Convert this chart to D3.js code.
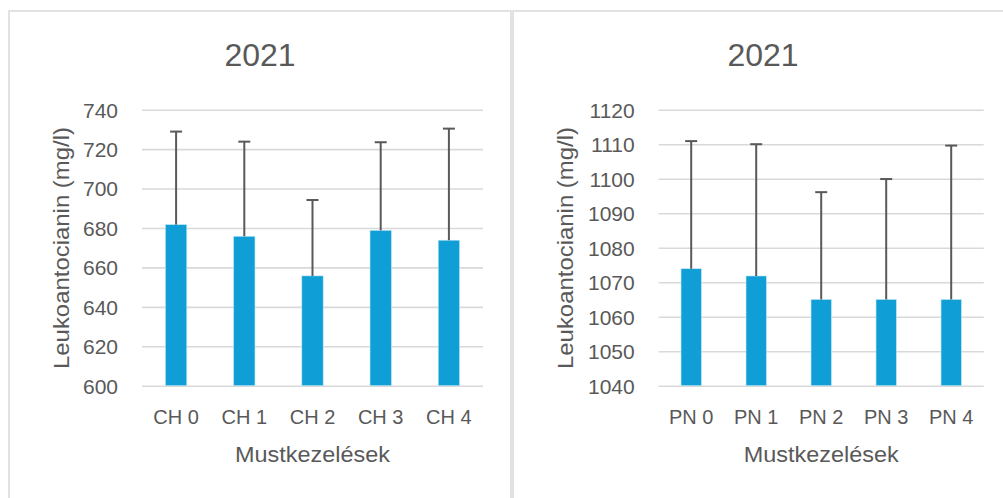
<!DOCTYPE html>
<html>
<head>
<meta charset="utf-8">
<script src="https://cdn.jsdelivr.net/npm/d3@7"></script>
<style>
  html, body { margin: 0; padding: 0; background: #ffffff; }
  svg { display: block; }
  text { font-family: "Liberation Sans", Arial, sans-serif; fill: #595959; }
</style>
</head>
<body>
<svg id="chart" width="1003" height="498"></svg>
<script>
// ---- data ----
const titleText = "2021";
const yAxisTitle = "Leukoantocianin (mg/l)";
const xAxisTitle = "Mustkezelések";

const categoriesCH = ["CH 0", "CH 1", "CH 2", "CH 3", "CH 4"];
const valuesCH = [681.7, 675.8, 655.7, 678.8, 673.8];
const errorsCH = [47.2, 48.0, 38.5, 44.7, 56.6];
const ticksCH = [600, 620, 640, 660, 680, 700, 720, 740];

const categoriesPN = ["PN 0", "PN 1", "PN 2", "PN 3", "PN 4"];
const valuesPN = [1073.9, 1071.8, 1065, 1065, 1065];
const errorsPN = [37.0, 38.2, 31.1, 34.9, 44.6];
const ticksPN = [1040, 1050, 1060, 1070, 1080, 1090, 1100, 1110, 1120];

// ---- drawing ----
const svg = d3.select("#chart");
const barColor = "#0f9ed5";
const gridColor = "#d9d9d9";
const errColor = "#595959";

function drawPanel(cfg) {
  const g = svg.append("g");
  // panel border
  g.append("rect")
    .attr("x", cfg.panelX).attr("y", 11)
    .attr("width", cfg.panelW).attr("height", 600)
    .attr("fill", "#ffffff")
    .attr("stroke", gridColor).attr("stroke-width", 1.5);

  const x = d3.scaleBand().domain(cfg.categories).range([cfg.x0, cfg.x1]).padding(0);
  const y = d3.scaleLinear().domain([cfg.ticks[0], cfg.ticks[cfg.ticks.length - 1]]).range([385.7, 109.7]);

  // gridlines + y tick labels
  const yAxis = d3.axisLeft(y).tickValues(cfg.ticks).tickSize(-(cfg.x1 - cfg.x0)).tickPadding(24).tickFormat(d3.format("d"));
  const ya = g.append("g").attr("transform", `translate(${cfg.x0},0)`).call(yAxis);
  ya.select(".domain").remove();
  ya.selectAll(".tick line").attr("stroke", gridColor).attr("stroke-width", 1.6);
  ya.selectAll(".tick text")
    .attr("fill", "#595959").attr("font-size", 21)
    .attr("font-family", "'Liberation Sans', Arial, sans-serif")
    .attr("dy", "0.35em");

  // bars
  const bw = x.bandwidth() * 0.313;
  const data = cfg.categories.map((c, i) => ({ c, v: cfg.values[i], e: cfg.errors[i] }));
  g.selectAll("rect.bar").data(data).join("rect")
    .attr("class", "bar")
    .attr("x", d => x(d.c) + x.bandwidth() / 2 - bw / 2)
    .attr("width", bw)
    .attr("y", d => y(d.v))
    .attr("height", d => y(cfg.ticks[0]) - y(d.v))
    .attr("fill", barColor)
    .attr("stroke", "#bfe6f5").attr("stroke-width", 0.6);

  // error bars (plus only)
  const eb = g.selectAll("g.err").data(data).join("g").attr("class", "err");
  eb.append("line")
    .attr("x1", d => x(d.c) + x.bandwidth() / 2)
    .attr("x2", d => x(d.c) + x.bandwidth() / 2)
    .attr("y1", d => y(d.v))
    .attr("y2", d => y(d.v + d.e))
    .attr("stroke", errColor).attr("stroke-width", 2);
  eb.append("line")
    .attr("x1", d => x(d.c) + x.bandwidth() / 2 - 6)
    .attr("x2", d => x(d.c) + x.bandwidth() / 2 + 6)
    .attr("y1", d => y(d.v + d.e))
    .attr("y2", d => y(d.v + d.e))
    .attr("stroke", errColor).attr("stroke-width", 2);

  // x axis labels
  const xAxis = d3.axisBottom(x).tickSize(0).tickPadding(0);
  const xa = g.append("g").attr("transform", `translate(0,${y(cfg.ticks[0])})`).call(xAxis);
  xa.select(".domain").remove();
  xa.selectAll(".tick text")
    .attr("fill", "#595959").attr("font-size", 20)
    .attr("font-family", "'Liberation Sans', Arial, sans-serif")
    .attr("y", 38).attr("dy", 0);

  // title
  g.append("text")
    .attr("x", cfg.panelX + cfg.panelW / 2 > 1003 ? cfg.titleX : cfg.titleX)
    .attr("y", 66)
    .attr("text-anchor", "middle")
    .attr("font-size", 32)
    .text(titleText);

  // axis titles
  g.append("text")
    .attr("x", (cfg.x0 + cfg.x1) / 2)
    .attr("y", 461.5)
    .attr("text-anchor", "middle")
    .attr("font-size", 21.5)
    .attr("textLength", 155).attr("lengthAdjust", "spacingAndGlyphs")
    .text(xAxisTitle);

  g.append("text")
    .attr("transform", `translate(${cfg.yTitleX},248) rotate(-90)`)
    .attr("text-anchor", "middle")
    .attr("dominant-baseline", "central")
    .attr("font-size", 22)
    .attr("textLength", 242).attr("lengthAdjust", "spacingAndGlyphs")
    .text(yAxisTitle);
}

drawPanel({
  panelX: 9, panelW: 502, x0: 142, x1: 483, titleX: 260, yTitleX: 61,
  categories: categoriesCH, values: valuesCH, errors: errorsCH, ticks: ticksCH
});
drawPanel({
  panelX: 513, panelW: 520, x0: 658.7, x1: 983.7, titleX: 763, yTitleX: 565,
  categories: categoriesPN, values: valuesPN, errors: errorsPN, ticks: ticksPN
});
</script>
</body>
</html>
